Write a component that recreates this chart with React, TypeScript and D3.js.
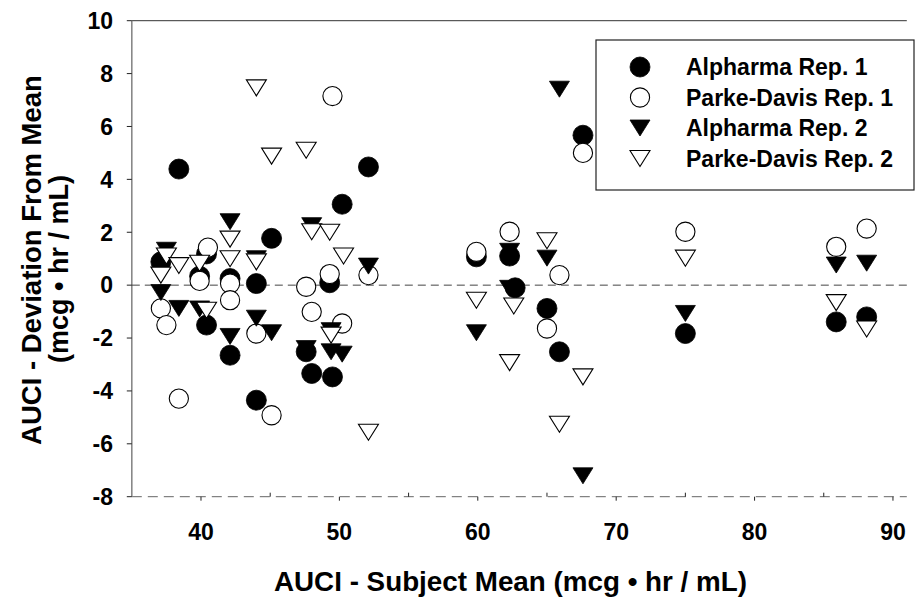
import React from "react";
import * as d3 from "d3";

const xTicks = [40, 50, 60, 70, 80, 90];
const xMinorTicks = [45, 55, 65, 75, 85];
const yTicks = [-8, -6, -4, -2, 0, 2, 4, 6, 8, 10];

const seriesNames = ["Alpharma Rep. 1", "Parke-Davis Rep. 1", "Alpharma Rep. 2", "Parke-Davis Rep. 2"];

// [subject mean, deviation]
const alpharma1: [number, number][] = [
  [37.1, 0.88], [38.4, 4.39], [40.4, 1.18], [39.9, 0.34], [40.4, -1.51], [42.1, 0.25], [42.1, -2.65],
  [44.0, 0.06], [44.0, -4.35], [45.1, 1.77], [47.6, -2.52], [48.0, -3.34], [49.3, 0.09], [49.5, -3.47],
  [50.2, 3.06], [52.1, 4.47], [59.9, 1.07], [62.3, 1.1], [62.7, -0.1], [65.0, -0.88], [65.9, -2.52],
  [67.6, 5.67], [75.0, -1.83], [85.9, -1.39], [88.1, -1.2],
];
const parkeDavis1: [number, number][] = [
  [37.1, -0.88], [37.5, -1.51], [38.4, -4.29], [40.5, 1.42], [39.9, 0.16], [42.1, 0.06], [42.1, -0.57],
  [44.0, -1.83], [45.1, -4.92], [47.6, -0.06], [48.0, -1.01], [49.5, 7.15], [49.3, 0.42], [50.2, -1.45],
  [52.1, 0.38], [59.9, 1.26], [62.3, 2.02], [65.0, -1.64], [65.9, 0.38], [67.6, 5.0], [75.0, 2.02],
  [85.9, 1.45], [88.1, 2.14],
];
const alpharma2: [number, number][] = [
  [37.1, -0.28], [37.5, 1.32], [38.4, -0.88], [39.9, -0.9], [42.1, 2.4], [42.1, -1.94], [44.0, 1.0],
  [44.0, -1.25], [45.1, -1.8], [47.6, -2.4], [48.0, 2.25], [49.4, -1.72], [49.4, -2.52], [50.2, -2.61],
  [52.1, 0.72], [59.9, -1.8], [62.3, 1.28], [62.3, -0.12], [65.0, 1.02], [65.9, 7.41], [67.6, -7.21],
  [75.0, -1.07], [85.9, 0.76], [88.1, 0.83],
];
const parkeDavis2: [number, number][] = [
  [37.1, 0.38], [37.5, 1.1], [38.4, 0.74], [39.9, 0.83], [40.4, -0.95], [42.1, 1.74], [42.1, 1.0],
  [44.0, 7.46], [44.0, 0.88], [45.1, 4.88], [47.6, 5.1], [48.0, 2.02], [49.3, 2.0], [49.4, -1.89],
  [50.3, 1.1], [52.1, -5.56], [59.9, -0.57], [62.3, -2.93], [62.6, -0.79], [65.0, 1.68], [65.9, -5.26],
  [67.6, -3.47], [75.0, 1.02], [85.9, -0.66], [88.1, -1.66],
];

const FONT = "'Liberation Sans', Arial, Helvetica, sans-serif";

type Kind = "circle" | "tri";
const seriesDefs: { data: [number, number][]; kind: Kind; filled: boolean }[] = [
  { data: alpharma1, kind: "circle", filled: true },
  { data: parkeDavis1, kind: "circle", filled: false },
  { data: alpharma2, kind: "tri", filled: true },
  { data: parkeDavis2, kind: "tri", filled: false },
];

const triPath = "M -10 -8 L 10 -8 L 0 8 Z";

function Marker({ x, y, kind, filled }: { x: number; y: number; kind: Kind; filled: boolean }) {
  const fill = filled ? "#000" : "#fff";
  const stroke = "#000";
  const sw = filled ? 0.8 : 1.1;
  if (kind === "circle") {
    return <circle cx={x} cy={y} r={filled ? 10 : 9.6} fill={fill} stroke={stroke} strokeWidth={sw} />;
  }
  return <path d={triPath} transform={`translate(${x},${y})`} fill={fill} stroke={stroke} strokeWidth={sw} strokeLinejoin="miter" />;
}

export default function App() {
  const x = d3.scaleLinear().domain([35, 91]).range([131.8, 906.8]);
  const y = d3.scaleLinear().domain([-8, 10]).range([496.7, 20.7]);
  const x0 = x(35);
  const x1 = x(91);

  return (
    <svg width={915} height={602} style={{ position: "absolute", left: 0, top: 0, background: "#fff" }} fontFamily={FONT}>
      <rect x={0} y={0} width={915} height={602} fill="#fff" />
      {/* frame lines */}
      <line x1={x0} x2={x1} y1={y(10)} y2={y(10)} stroke="#333" strokeWidth={1} />
      <line x1={x0} x2={x1} y1={y(-8)} y2={y(-8)} stroke="#666" strokeWidth={1} strokeDasharray="10,6" />
      <line x1={x0} x2={x0} y1={y(10)} y2={y(-8)} stroke="#888" strokeWidth={1.6} />
      {/* zero line */}
      <line x1={x0} x2={x1 + 4} y1={y(0)} y2={y(0)} stroke="#444" strokeWidth={1} strokeDasharray="8,5" />

      {/* y ticks */}
      {yTicks.map((t) => (
        <g key={"y" + t}>
          <line x1={x0 - 5} x2={x0} y1={y(t)} y2={y(t)} stroke="#222" strokeWidth={1} />
          <text x={113} y={y(t)} dy="0.36em" textAnchor="end" fontSize={23} fontWeight="bold" fill="#000">
            {t}
          </text>
        </g>
      ))}
      {/* x ticks */}
      {xTicks.map((t) => (
        <g key={"x" + t}>
          <line x1={x(t)} x2={x(t)} y1={y(-8)} y2={y(-8) + 4} stroke="#222" strokeWidth={1} />
          <text x={x(t)} y={540} textAnchor="middle" fontSize={23} fontWeight="bold" fill="#000">
            {t}
          </text>
        </g>
      ))}
      {xMinorTicks.map((t) => (
        <line key={"xm" + t} x1={x(t)} x2={x(t)} y1={y(-8)} y2={y(-8) - 4} stroke="#222" strokeWidth={1} />
      ))}

      {/* axis titles */}
      <text x={510.5} y={591} textAnchor="middle" fontSize={27.8} fontWeight="bold" fill="#000">
        AUCI - Subject Mean (mcg • hr / mL)
      </text>
      <text transform="translate(41,260) rotate(-90)" textAnchor="middle" fontSize={27.5} fontWeight="bold" fill="#000">
        AUCI - Deviation From Mean
      </text>
      <text transform="translate(68,269) rotate(-90)" textAnchor="middle" fontSize={27} fontWeight="bold" fill="#000">
        (mcg • hr / mL)
      </text>

      {/* data */}
      {seriesDefs.map((s, si) => (
        <g key={"s" + si}>
          {s.data.map((d, i) => (
            <Marker key={i} x={x(d[0])} y={y(d[1])} kind={s.kind} filled={s.filled} />
          ))}
        </g>
      ))}

      {/* legend */}
      <rect x={596} y={40} width={318} height={150} fill="#fff" stroke="#222" strokeWidth={1.2} />
      {seriesDefs.map((s, i) => {
        const cy = 67 + i * 30.5;
        return (
          <g key={"l" + i}>
            <Marker x={640} y={cy} kind={s.kind} filled={s.filled} />
            <text x={686} y={cy} dy="0.36em" fontSize={23} fontWeight="bold" fill="#000">
              {seriesNames[i]}
            </text>
          </g>
        );
      })}
    </svg>
  );
}
